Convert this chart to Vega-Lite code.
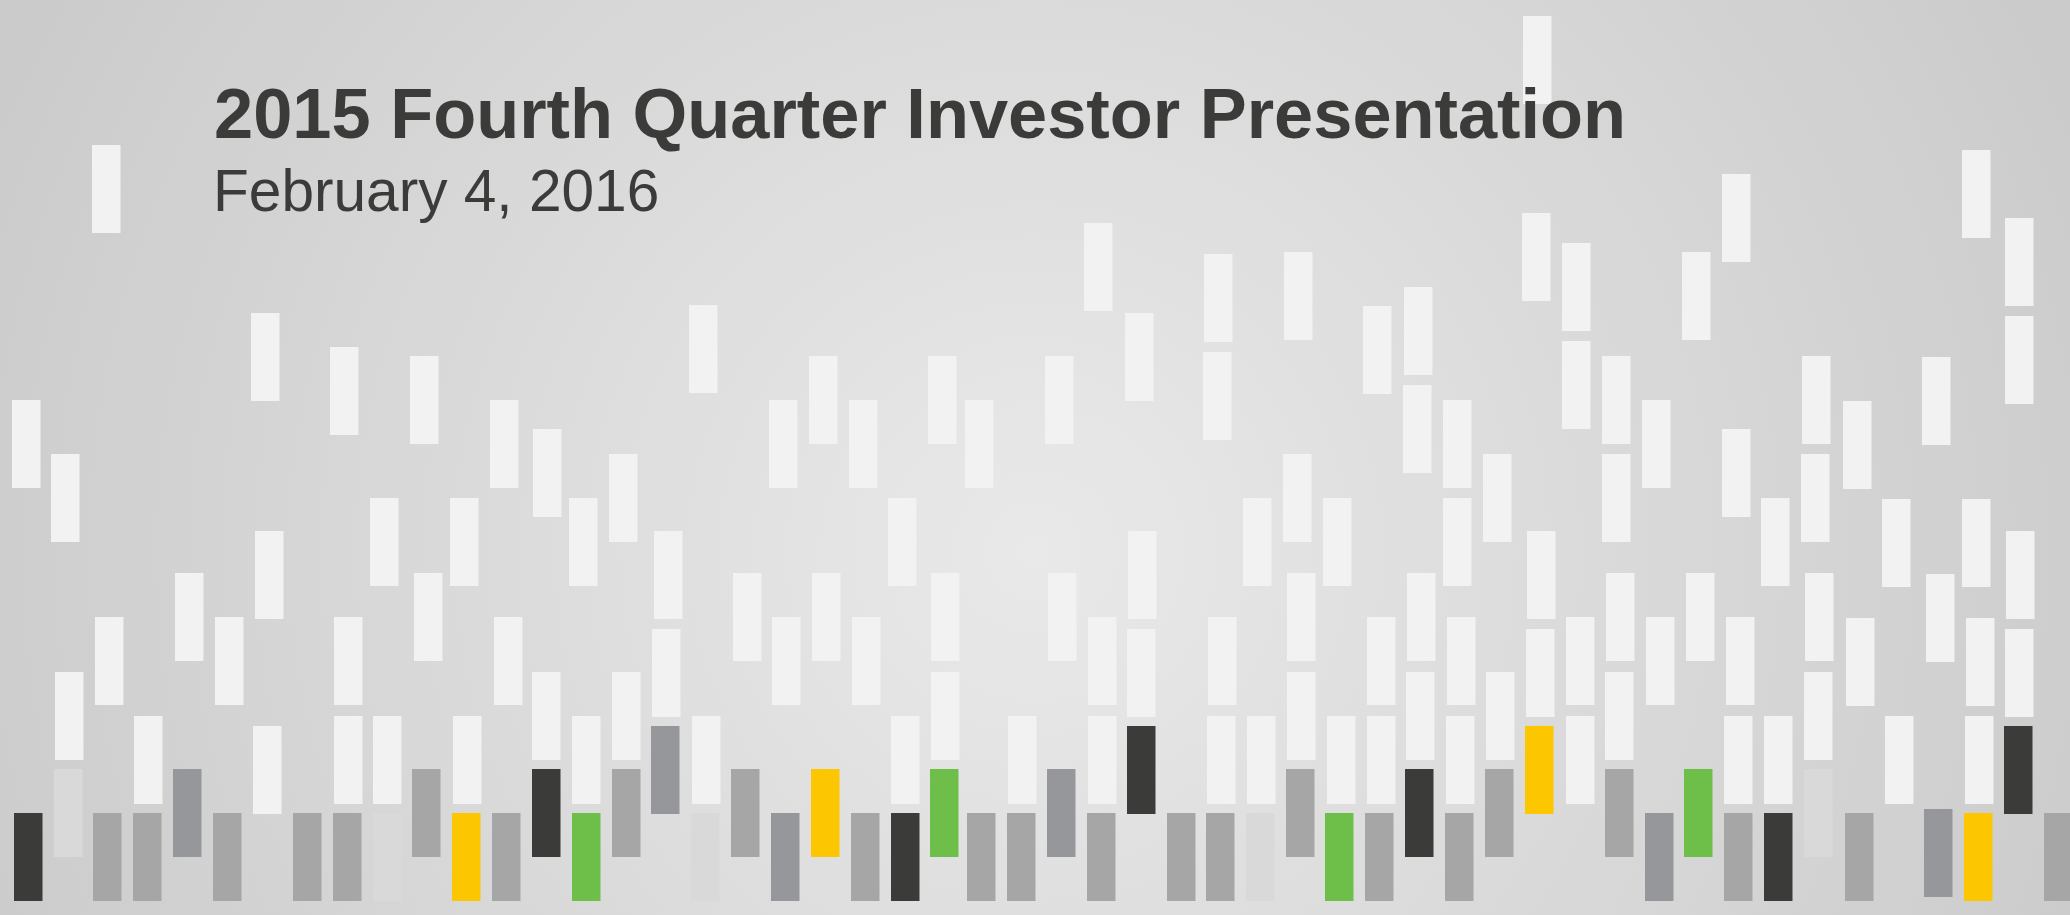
{
  "$schema": "https://vega.github.io/schema/vega-lite/v6.json",
  "width": 2070,
  "height": 915,
  "autosize": {"type": "none"},
  "padding": 0,
  "background": "#cccccc",
  "config": {"view": {"stroke": null}},
  "layer": [
    {
      "data": {"values": [{"x": 0, "x2": 2070, "y": -500, "y2": 1500}]},
      "mark": {"type": "rect", "clip": true, "fill": {"gradient": "radial", "x1": 0.5, "y1": 0.525, "r1": 0, "x2": 0.5, "y2": 0.525, "r2": 0.55, "stops": [{"offset": 0, "color": "#e9e9e9"}, {"offset": 1, "color": "#cbcbcb"}]}},
      "encoding": {
        "x": {"field": "x", "type": "quantitative", "scale": {"domain": [0, 2070], "nice": false, "zero": false}, "axis": null},
        "x2": {"field": "x2"},
        "y": {"field": "y", "type": "quantitative", "scale": {"domain": [0, 915], "nice": false, "zero": false, "reverse": true}, "axis": null},
        "y2": {"field": "y2"}
      }
    },
    {
      "data": {"values": [
        {"x":12,"x2":40.5,"y":400,"y2":488,"c":"white"},
        {"x":14,"x2":42.5,"y":813,"y2":901,"c":"dark"},
        {"x":51,"x2":79.5,"y":454,"y2":542,"c":"white"},
        {"x":55,"x2":83.5,"y":672,"y2":760,"c":"white"},
        {"x":54,"x2":82.5,"y":769,"y2":857,"c":"light"},
        {"x":92,"x2":120.5,"y":145,"y2":233,"c":"white"},
        {"x":95,"x2":123.5,"y":617,"y2":705,"c":"white"},
        {"x":93,"x2":121.5,"y":813,"y2":901,"c":"gray"},
        {"x":134,"x2":162.5,"y":716,"y2":804,"c":"white"},
        {"x":133,"x2":161.5,"y":813,"y2":901,"c":"gray"},
        {"x":175,"x2":203.5,"y":573,"y2":661,"c":"white"},
        {"x":173,"x2":201.5,"y":769,"y2":857,"c":"slate"},
        {"x":215,"x2":243.5,"y":617,"y2":705,"c":"white"},
        {"x":213,"x2":241.5,"y":813,"y2":901,"c":"gray"},
        {"x":251,"x2":279.5,"y":313,"y2":401,"c":"white"},
        {"x":255,"x2":283.5,"y":531,"y2":619,"c":"white"},
        {"x":253,"x2":281.5,"y":726,"y2":814,"c":"white"},
        {"x":293,"x2":321.5,"y":813,"y2":901,"c":"gray"},
        {"x":330,"x2":358.5,"y":347,"y2":435,"c":"white"},
        {"x":334,"x2":362.5,"y":617,"y2":705,"c":"white"},
        {"x":334,"x2":362.5,"y":716,"y2":804,"c":"white"},
        {"x":333,"x2":361.5,"y":813,"y2":901,"c":"gray"},
        {"x":370,"x2":398.5,"y":498,"y2":586,"c":"white"},
        {"x":373,"x2":401.5,"y":716,"y2":804,"c":"white"},
        {"x":373,"x2":401.5,"y":813,"y2":901,"c":"light"},
        {"x":410,"x2":438.5,"y":356,"y2":444,"c":"white"},
        {"x":414,"x2":442.5,"y":573,"y2":661,"c":"white"},
        {"x":412,"x2":440.5,"y":769,"y2":857,"c":"gray"},
        {"x":450,"x2":478.5,"y":498,"y2":586,"c":"white"},
        {"x":453,"x2":481.5,"y":716,"y2":804,"c":"white"},
        {"x":452,"x2":480.5,"y":813,"y2":901,"c":"yellow"},
        {"x":490,"x2":518.5,"y":400,"y2":488,"c":"white"},
        {"x":494,"x2":522.5,"y":617,"y2":705,"c":"white"},
        {"x":492,"x2":520.5,"y":813,"y2":901,"c":"gray"},
        {"x":533,"x2":561.5,"y":429,"y2":517,"c":"white"},
        {"x":532,"x2":560.5,"y":672,"y2":760,"c":"white"},
        {"x":532,"x2":560.5,"y":769,"y2":857,"c":"dark"},
        {"x":569,"x2":597.5,"y":498,"y2":586,"c":"white"},
        {"x":572,"x2":600.5,"y":716,"y2":804,"c":"white"},
        {"x":572,"x2":600.5,"y":813,"y2":901,"c":"green"},
        {"x":609,"x2":637.5,"y":454,"y2":542,"c":"white"},
        {"x":612,"x2":640.5,"y":672,"y2":760,"c":"white"},
        {"x":612,"x2":640.5,"y":769,"y2":857,"c":"gray"},
        {"x":654,"x2":682.5,"y":531,"y2":619,"c":"white"},
        {"x":652,"x2":680.5,"y":629,"y2":717,"c":"white"},
        {"x":651,"x2":679.5,"y":726,"y2":814,"c":"slate"},
        {"x":689,"x2":717.5,"y":305,"y2":393,"c":"white"},
        {"x":692,"x2":720.5,"y":716,"y2":804,"c":"white"},
        {"x":691,"x2":719.5,"y":813,"y2":901,"c":"light"},
        {"x":733,"x2":761.5,"y":573,"y2":661,"c":"white"},
        {"x":731,"x2":759.5,"y":769,"y2":857,"c":"gray"},
        {"x":769,"x2":797.5,"y":400,"y2":488,"c":"white"},
        {"x":772,"x2":800.5,"y":617,"y2":705,"c":"white"},
        {"x":771,"x2":799.5,"y":813,"y2":901,"c":"slate"},
        {"x":809,"x2":837.5,"y":356,"y2":444,"c":"white"},
        {"x":812,"x2":840.5,"y":573,"y2":661,"c":"white"},
        {"x":811,"x2":839.5,"y":769,"y2":857,"c":"yellow"},
        {"x":849,"x2":877.5,"y":400,"y2":488,"c":"white"},
        {"x":852,"x2":880.5,"y":617,"y2":705,"c":"white"},
        {"x":851,"x2":879.5,"y":813,"y2":901,"c":"gray"},
        {"x":888,"x2":916.5,"y":498,"y2":586,"c":"white"},
        {"x":891,"x2":919.5,"y":716,"y2":804,"c":"white"},
        {"x":891,"x2":919.5,"y":813,"y2":901,"c":"dark"},
        {"x":928,"x2":956.5,"y":356,"y2":444,"c":"white"},
        {"x":931,"x2":959.5,"y":573,"y2":661,"c":"white"},
        {"x":931,"x2":959.5,"y":672,"y2":760,"c":"white"},
        {"x":930,"x2":958.5,"y":769,"y2":857,"c":"green"},
        {"x":965,"x2":993.5,"y":400,"y2":488,"c":"white"},
        {"x":967,"x2":995.5,"y":813,"y2":901,"c":"gray"},
        {"x":1008,"x2":1036.5,"y":716,"y2":804,"c":"white"},
        {"x":1007,"x2":1035.5,"y":813,"y2":901,"c":"gray"},
        {"x":1045,"x2":1073.5,"y":356,"y2":444,"c":"white"},
        {"x":1048,"x2":1076.5,"y":573,"y2":661,"c":"white"},
        {"x":1047,"x2":1075.5,"y":769,"y2":857,"c":"slate"},
        {"x":1084,"x2":1112.5,"y":223,"y2":311,"c":"white"},
        {"x":1088,"x2":1116.5,"y":617,"y2":705,"c":"white"},
        {"x":1088,"x2":1116.5,"y":716,"y2":804,"c":"white"},
        {"x":1087,"x2":1115.5,"y":813,"y2":901,"c":"gray"},
        {"x":1125,"x2":1153.5,"y":313,"y2":401,"c":"white"},
        {"x":1128,"x2":1156.5,"y":531,"y2":619,"c":"white"},
        {"x":1127,"x2":1155.5,"y":629,"y2":717,"c":"white"},
        {"x":1127,"x2":1155.5,"y":726,"y2":814,"c":"dark"},
        {"x":1167,"x2":1195.5,"y":813,"y2":901,"c":"gray"},
        {"x":1204,"x2":1232.5,"y":254,"y2":342,"c":"white"},
        {"x":1203,"x2":1231.5,"y":352,"y2":440,"c":"white"},
        {"x":1208,"x2":1236.5,"y":617,"y2":705,"c":"white"},
        {"x":1207,"x2":1235.5,"y":716,"y2":804,"c":"white"},
        {"x":1206,"x2":1234.5,"y":813,"y2":901,"c":"gray"},
        {"x":1243,"x2":1271.5,"y":498,"y2":586,"c":"white"},
        {"x":1247,"x2":1275.5,"y":716,"y2":804,"c":"white"},
        {"x":1246,"x2":1274.5,"y":813,"y2":901,"c":"light"},
        {"x":1284,"x2":1312.5,"y":252,"y2":340,"c":"white"},
        {"x":1283,"x2":1311.5,"y":454,"y2":542,"c":"white"},
        {"x":1287,"x2":1315.5,"y":573,"y2":661,"c":"white"},
        {"x":1287,"x2":1315.5,"y":672,"y2":760,"c":"white"},
        {"x":1286,"x2":1314.5,"y":769,"y2":857,"c":"gray"},
        {"x":1323,"x2":1351.5,"y":498,"y2":586,"c":"white"},
        {"x":1327,"x2":1355.5,"y":716,"y2":804,"c":"white"},
        {"x":1325,"x2":1353.5,"y":813,"y2":901,"c":"green"},
        {"x":1363,"x2":1391.5,"y":306,"y2":394,"c":"white"},
        {"x":1367,"x2":1395.5,"y":617,"y2":705,"c":"white"},
        {"x":1367,"x2":1395.5,"y":716,"y2":804,"c":"white"},
        {"x":1365,"x2":1393.5,"y":813,"y2":901,"c":"gray"},
        {"x":1404,"x2":1432.5,"y":287,"y2":375,"c":"white"},
        {"x":1403,"x2":1431.5,"y":385,"y2":473,"c":"white"},
        {"x":1407,"x2":1435.5,"y":573,"y2":661,"c":"white"},
        {"x":1406,"x2":1434.5,"y":672,"y2":760,"c":"white"},
        {"x":1405,"x2":1433.5,"y":769,"y2":857,"c":"dark"},
        {"x":1443,"x2":1471.5,"y":400,"y2":488,"c":"white"},
        {"x":1443,"x2":1471.5,"y":498,"y2":586,"c":"white"},
        {"x":1447,"x2":1475.5,"y":617,"y2":705,"c":"white"},
        {"x":1446,"x2":1474.5,"y":716,"y2":804,"c":"white"},
        {"x":1445,"x2":1473.5,"y":813,"y2":901,"c":"gray"},
        {"x":1483,"x2":1511.5,"y":454,"y2":542,"c":"white"},
        {"x":1486,"x2":1514.5,"y":672,"y2":760,"c":"white"},
        {"x":1485,"x2":1513.5,"y":769,"y2":857,"c":"gray"},
        {"x":1523,"x2":1551.5,"y":16,"y2":104,"c":"white"},
        {"x":1522,"x2":1550.5,"y":213,"y2":301,"c":"white"},
        {"x":1527,"x2":1555.5,"y":531,"y2":619,"c":"white"},
        {"x":1526,"x2":1554.5,"y":629,"y2":717,"c":"white"},
        {"x":1525,"x2":1553.5,"y":726,"y2":814,"c":"yellow"},
        {"x":1562,"x2":1590.5,"y":243,"y2":331,"c":"white"},
        {"x":1562,"x2":1590.5,"y":341,"y2":429,"c":"white"},
        {"x":1566,"x2":1594.5,"y":617,"y2":705,"c":"white"},
        {"x":1566,"x2":1594.5,"y":716,"y2":804,"c":"white"},
        {"x":1602,"x2":1630.5,"y":356,"y2":444,"c":"white"},
        {"x":1602,"x2":1630.5,"y":454,"y2":542,"c":"white"},
        {"x":1606,"x2":1634.5,"y":573,"y2":661,"c":"white"},
        {"x":1605,"x2":1633.5,"y":672,"y2":760,"c":"white"},
        {"x":1605,"x2":1633.5,"y":769,"y2":857,"c":"gray"},
        {"x":1642,"x2":1670.5,"y":400,"y2":488,"c":"white"},
        {"x":1646,"x2":1674.5,"y":617,"y2":705,"c":"white"},
        {"x":1645,"x2":1673.5,"y":813,"y2":901,"c":"slate"},
        {"x":1682,"x2":1710.5,"y":252,"y2":340,"c":"white"},
        {"x":1686,"x2":1714.5,"y":573,"y2":661,"c":"white"},
        {"x":1684,"x2":1712.5,"y":769,"y2":857,"c":"green"},
        {"x":1722,"x2":1750.5,"y":174,"y2":262,"c":"white"},
        {"x":1722,"x2":1750.5,"y":429,"y2":517,"c":"white"},
        {"x":1726,"x2":1754.5,"y":617,"y2":705,"c":"white"},
        {"x":1724,"x2":1752.5,"y":716,"y2":804,"c":"white"},
        {"x":1724,"x2":1752.5,"y":813,"y2":901,"c":"gray"},
        {"x":1761,"x2":1789.5,"y":498,"y2":586,"c":"white"},
        {"x":1764,"x2":1792.5,"y":716,"y2":804,"c":"white"},
        {"x":1764,"x2":1792.5,"y":813,"y2":901,"c":"dark"},
        {"x":1802,"x2":1830.5,"y":356,"y2":444,"c":"white"},
        {"x":1801,"x2":1829.5,"y":454,"y2":542,"c":"white"},
        {"x":1805,"x2":1833.5,"y":573,"y2":661,"c":"white"},
        {"x":1804,"x2":1832.5,"y":672,"y2":760,"c":"white"},
        {"x":1804,"x2":1832.5,"y":769,"y2":857,"c":"light"},
        {"x":1843,"x2":1871.5,"y":401,"y2":489,"c":"white"},
        {"x":1846,"x2":1874.5,"y":618,"y2":706,"c":"white"},
        {"x":1845,"x2":1873.5,"y":813,"y2":901,"c":"gray"},
        {"x":1882,"x2":1910.5,"y":499,"y2":587,"c":"white"},
        {"x":1885,"x2":1913.5,"y":716,"y2":804,"c":"white"},
        {"x":1922,"x2":1950.5,"y":357,"y2":445,"c":"white"},
        {"x":1926,"x2":1954.5,"y":574,"y2":662,"c":"white"},
        {"x":1924,"x2":1952.5,"y":809,"y2":897,"c":"slate"},
        {"x":1962,"x2":1990.5,"y":150,"y2":238,"c":"white"},
        {"x":1962,"x2":1990.5,"y":499,"y2":587,"c":"white"},
        {"x":1966,"x2":1994.5,"y":618,"y2":706,"c":"white"},
        {"x":1965,"x2":1993.5,"y":716,"y2":804,"c":"white"},
        {"x":1964,"x2":1992.5,"y":813,"y2":901,"c":"yellow"},
        {"x":2005,"x2":2033.5,"y":218,"y2":306,"c":"white"},
        {"x":2005,"x2":2033.5,"y":316,"y2":404,"c":"white"},
        {"x":2006,"x2":2034.5,"y":531,"y2":619,"c":"white"},
        {"x":2005,"x2":2033.5,"y":629,"y2":717,"c":"white"},
        {"x":2004,"x2":2032.5,"y":726,"y2":814,"c":"dark"},
        {"x":2044,"x2":2072.5,"y":813,"y2":901,"c":"gray"}
      ]},
      "mark": {"type": "rect", "clip": true},
      "encoding": {
        "x": {"field": "x", "type": "quantitative"},
        "x2": {"field": "x2"},
        "y": {"field": "y", "type": "quantitative"},
        "y2": {"field": "y2"},
        "color": {"field": "c", "type": "nominal", "legend": null, "scale": {"domain": ["white", "dark", "gray", "slate", "light", "yellow", "green"], "range": ["#f2f2f2", "#3b3b39", "#a6a6a6", "#96979b", "#d9d9d9", "#fcc700", "#6ebf4a"]}}
      }
    },
    {
      "data": {"values": [{"t": "2015 Fourth Quarter Investor Presentation", "x": 214, "y": 138}]},
      "mark": {"type": "text", "align": "left", "baseline": "alphabetic", "font": "Liberation Sans", "fontSize": 70.4, "fontWeight": "bold", "fill": "#3b3b39"},
      "encoding": {
        "x": {"field": "x", "type": "quantitative"},
        "y": {"field": "y", "type": "quantitative"},
        "text": {"field": "t"}
      }
    },
    {
      "data": {"values": [{"t": "February 4, 2016", "x": 213, "y": 211}]},
      "mark": {"type": "text", "align": "left", "baseline": "alphabetic", "font": "Liberation Sans", "fontSize": 58.6, "fontWeight": "normal", "fill": "#3b3b39"},
      "encoding": {
        "x": {"field": "x", "type": "quantitative"},
        "y": {"field": "y", "type": "quantitative"},
        "text": {"field": "t"}
      }
    }
  ]
}
